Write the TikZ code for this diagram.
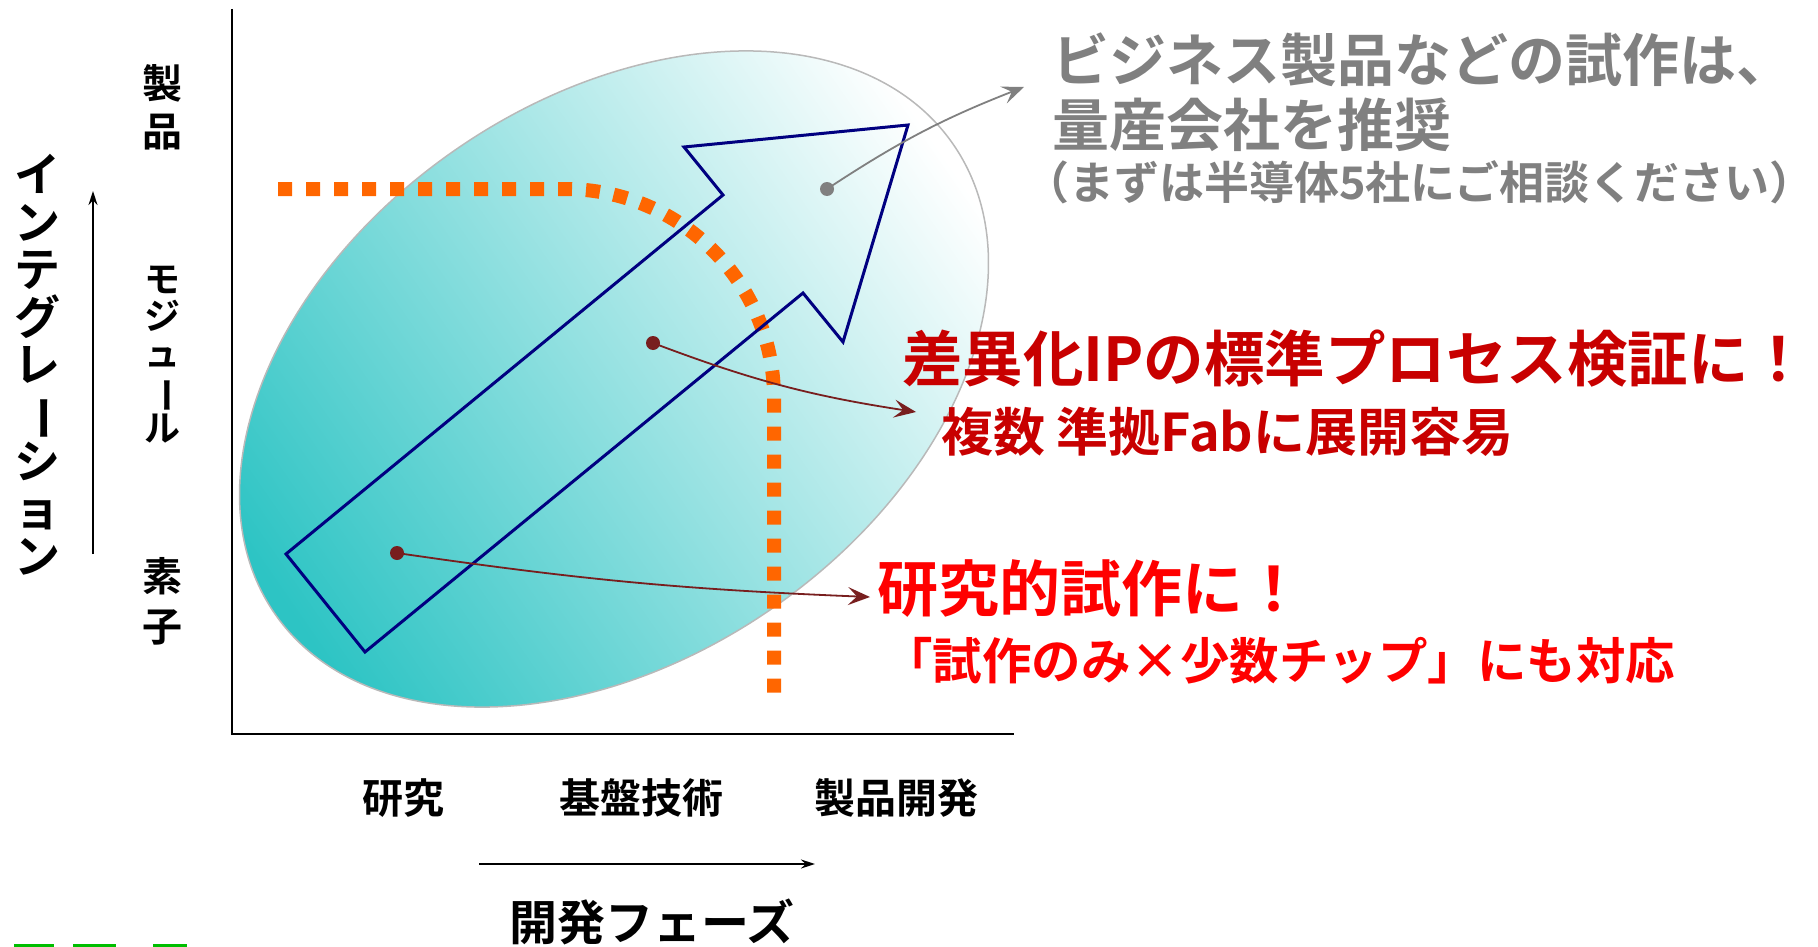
\documentclass[tikz,border=0pt]{standalone}
\usepackage{fontspec}
\newfontfamily\jp{Noto Sans CJK JP}[BoldFont={* Bold}]
\usetikzlibrary{arrows.meta,shapes.geometric}
\definecolor{navyb}{RGB}{0,0,128}
\definecolor{orng}{RGB}{255,102,0}
\definecolor{tealc}{RGB}{45,196,196}
\definecolor{midteal}{RGB}{178,230,230}
\definecolor{paleteal}{RGB}{255,255,255}
\definecolor{darkr}{RGB}{200,0,0}
\definecolor{brightr}{RGB}{255,0,0}
\definecolor{graytxt}{RGB}{128,128,128}
\definecolor{brownr}{RGB}{120,30,30}
\definecolor{greenm}{RGB}{0,190,0}
\newcommand{\fsz}[2]{\fontsize{#1}{#2}\selectfont}
\newcommand{\vbar}{\rotatebox[origin=c]{-90}{ー}}
\tikzset{
  txt/.style={inner sep=0pt, outer sep=0pt},
  axisline/.style={line width=2pt, black},
  axarrow/.style={line width=1.6pt, -{Stealth[length=14pt,width=9pt]}},
  dotlink/.style={line width=1.8pt},
  graydot/.style={circle, fill=gray, minimum size=14pt, inner sep=0pt},
  reddot/.style={circle, fill=brownr, minimum size=14pt, inner sep=0pt},
}
\begin{document}
\begin{tikzpicture}[x=1pt,y=1pt]
\useasboundingbox (0,0) rectangle (1818,-947);
% axes
\coordinate (yaxT) at (232,-9);
\coordinate (orig) at (232,-734);
\coordinate (xaxR) at (1014,-734);
\draw[axisline] (yaxT) -- (orig) -- (xaxR);
% ellipse
\begin{scope}[rotate around={34.7:(614,-379)}]
\shade[top color=paleteal, middle color=midteal, bottom color=tealc, shading angle=-55.3, draw=gray!55, line width=1.5pt]
  (614,-379) ellipse [x radius=412.5, y radius=278.7];
\end{scope}
% orange dotted boundary
\draw[orng, line width=14pt, dash pattern=on 14pt off 14pt]
  (278,-189) -- (565,-189) arc[start angle=90, end angle=0, radius=209] -- (774,-705);
% blue arrow
\draw[navyb, line width=3pt, line join=miter]
  (286,-554) -- (723,-195) -- (684,-147) -- (908,-125) -- (843,-342) -- (803,-293) -- (365,-652) -- cycle;
% dots and links
\node[graydot] (gdot) at (827,-189) {};
\node[reddot] (mdot) at (653,-343) {};
\node[reddot] (sdot) at (397,-553) {};
\coordinate (gend) at (1024,-87);
\coordinate (mend) at (916,-412);
\coordinate (send) at (870,-597);
\draw[dotlink, gray, -{Stealth[length=22pt,width=18pt,inset=9pt]}] (gdot.center) to[bend left=6] (gend);
\draw[dotlink, brownr, -{Stealth[length=22pt,width=18pt,inset=9pt]}] (mdot.center) to[bend right=6] (mend);
\draw[dotlink, brownr, -{Stealth[length=22pt,width=18pt,inset=9pt]}] (sdot.center) to[bend right=3] (send);
% y labels
\node[txt, align=center, font=\jp\bfseries\fsz{40}{48}] (seihin) at (162,-107) {製\\品};
\node[txt, align=center, font=\jp\bfseries\fsz{36}{37}] (module) at (162,-355) {モ\\ジ\\ュ\\\vbar\\ル};
\node[txt, align=center, font=\jp\bfseries\fsz{40}{50}] (soshi) at (162,-601) {素\\子};
\node[txt, align=center, font=\jp\bfseries\fsz{46}{47.5}] (integ) at (37,-365) {イ\\ン\\テ\\グ\\レ\\\vbar\\シ\\ョ\\ン};
\coordinate (yarB) at (93,-554);
\coordinate (yarT) at (93,-191);
\draw[axarrow] (yarB) -- (yarT);
% x labels
\node[txt, font=\jp\bfseries\fsz{41}{41}] (kenkyu) at (403,-798) {研究};
\node[txt, font=\jp\bfseries\fsz{41}{41}] (kiban) at (641,-798) {基盤技術};
\node[txt, font=\jp\bfseries\fsz{41}{41}] (kaihatsu) at (896,-798) {製品開発};
\coordinate (xarL) at (479,-864);
\coordinate (xarR) at (815,-864);
\draw[axarrow] (xarL) -- (xarR);
\node[txt, font=\jp\bfseries\fsz{48}{48}] (phase) at (652,-922) {開発フェーズ};
% gray text
\node[txt, anchor=west, text=graytxt, font=\jp\bfseries\fsz{57}{57}] (g1) at (1052,-60) {ビジネス製品などの試作は、};
\node[txt, anchor=west, text=graytxt, font=\jp\bfseries\fsz{57}{57}] (g2) at (1052,-125) {量産会社を推奨};
\node[txt, anchor=west, text=graytxt, font=\jp\bfseries\fsz{45}{45}] (g3) at (1024,-182) {（まずは半導体5社にご相談ください）};
% red texts
\node[txt, anchor=west, text=darkr, font=\jp\bfseries\fsz{60.5}{60.5}] (r1) at (902,-359) {差異化IPの標準プロセス検証に！};
\node[txt, anchor=west, text=darkr, font=\jp\bfseries\fsz{52}{52}] (r2) at (941,-432) {複数 準拠Fabに展開容易};
\node[txt, anchor=west, text=brightr, font=\jp\bfseries\fsz{61}{61}] (b1) at (877,-589) {研究的試作に！};
\node[txt, anchor=west, text=brightr, font=\jp\bfseries\fsz{49.5}{49.5}] (b2) at (883,-661) {「試作のみ×少数チップ」にも対応};
% green marks at the bottom edge
\fill[greenm] (14,-944) rectangle (54,-947);
\fill[greenm] (73,-944) rectangle (116,-947);
\fill[greenm] (153,-944) rectangle (187,-947);
\end{tikzpicture}
\end{document}
